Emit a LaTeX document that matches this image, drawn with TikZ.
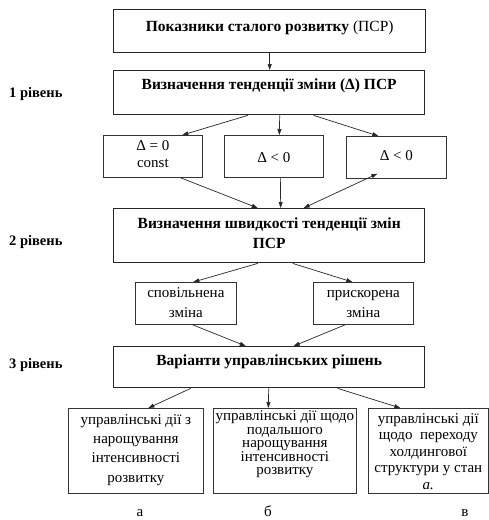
\documentclass[tikz,border=0pt]{standalone}
\usepackage{fontspec}
\setmainfont{Liberation Serif}
\usetikzlibrary{arrows.meta}
% text block of fixed size, set from the top: width, height, gap above first line, text
\newcommand\boxtext[4]{\parbox[c][#2pt][t]{#1pt}{\centering\vspace*{#3pt}#4}}
\begin{document}
\begin{tikzpicture}[x=1pt,y=-1pt,
  bigbox/.style={draw=black!85,line width=1.4pt,anchor=north west,inner sep=0pt,
    font=\bfseries\fontsize{15.5}{15}\selectfont},
  smallbox/.style={draw=black!80,line width=0.7pt,anchor=north west,inner sep=0pt,
    font=\fontsize{15}{17}\selectfont},
  conn/.style={draw=black!85,line width=0.7pt,-{Triangle[length=6pt,width=4pt]}},
  lvl/.style={anchor=west,inner sep=0pt,font=\bfseries\fontsize{14.5}{15}\selectfont},
  caption/.style={anchor=base,inner sep=0pt,font=\fontsize{15}{15}\selectfont},
]
\useasboundingbox (0,0) rectangle (489,520);

% main chain of wide boxes
\node[bigbox] (P) at (113,9)
  {\boxtext{312}{43}{11.5}{\strut Показники сталого розвитку \textmd{(ПСР)}}};
\node[bigbox] (T) at (113,70)
  {\boxtext{311}{44}{8.5}{\strut Визначення тенденції зміни (Δ) ПСР}};
\node[bigbox,font=\bfseries\fontsize{15.5}{20}\selectfont] (V) at (113,208)
  {\boxtext{311}{54}{6}{\strut Визначення швидкості тенденції змін\\ПСР}};
\node[bigbox] (R) at (113,346)
  {\boxtext{311}{41}{8.5}{\strut Варіанти управлінських рішень}};

% level 1 outcomes
\node[smallbox] (S1) at (103,135) {\boxtext{99}{42}{3}{\strut Δ = 0\\const}};
\node[smallbox] (S2) at (224,135) {\boxtext{99}{42}{15}{\strut Δ < 0}};
\node[smallbox] (S3) at (346,136) {\boxtext{100}{42}{12}{\strut Δ < 0}};

% level 2 outcomes
\node[smallbox,font=\fontsize{15}{20}\selectfont] (M1) at (135,282)
  {\boxtext{101}{42}{1}{\strut сповільнена\\зміна}};
\node[smallbox,font=\fontsize{15}{20}\selectfont] (M2) at (313,282)
  {\boxtext{100}{42}{1}{\strut прискорена\\зміна}};

% level 3 outcomes
\node[smallbox,font=\fontsize{15}{19.3}\selectfont] (B1) at (68,408)
  {\boxtext{135}{85}{2.5}{\strut управлінські дії з\\нарощування\\інтенсивності\\розвитку}};
\node[smallbox,font=\fontsize{15}{13.5}\selectfont] (B2) at (213,408)
  {\boxtext{143}{85}{2.5}{\strut\makebox[0pt]{управлінські дії щодо}\\подальшого\\нарощування\\інтенсивності\\розвитку}};
\node[smallbox,font=\fontsize{15}{16.5}\selectfont] (B3) at (368,408)
  {\boxtext{120}{85}{3.5}{\strut управлінські дії\\щодо\ \ переходу\\холдингової\\\makebox[0pt]{структури у стан}\\\textit{a.}}};

% captions under the bottom row
\node[caption] (La) at (140,516) {а};
\node[caption] (Lb) at (268,516) {б};
\node[caption] (Lc) at (465,516) {в};

% level labels
\node[lvl] (L1) at (9,94) {1 рівень};
\node[lvl] (L2) at (9,242) {2 рівень};
\node[lvl] (L3) at (9,365) {3 рівень};

% connectors
\draw[conn] (P.south) -- (P.south |- T.north);
\draw[conn] ([xshift=-21.5pt]T.south) -- ([xshift=29.5pt]S1.north);
\draw[conn] ([xshift=10.5pt]T.south) -- ([xshift=5.5pt]S2.north);
\draw[conn] ([xshift=44.5pt]T.south) -- ([xshift=-18pt]S3.north);

\draw[conn] ([xshift=27.5pt]S1.south) -- ([xshift=-11.5pt]V.north);
\draw[conn] ([xshift=6.5pt]S2.south) -- ([xshift=11.5pt]V.north);
\draw[conn,{Triangle[length=6pt,width=4pt]}-{Triangle[length=6pt,width=4pt]}]
  ([xshift=34.5pt]V.north) -- ([xshift=-19pt,yshift=5pt]S3.south);

\draw[conn] ([xshift=-11.5pt]V.south) -- ([xshift=7.5pt]M1.north);
\draw[conn] ([xshift=23.5pt]V.south) -- ([xshift=-11pt]M2.north);

\draw[conn] ([xshift=6.5pt]M1.south) -- ([xshift=-23.5pt]R.north);
\draw[conn] ([xshift=-18pt]M2.south) -- ([xshift=24.5pt]R.north);

\draw[conn] ([xshift=-78.5pt]R.south) -- ([xshift=12.5pt]B1.north);
\draw[conn] ([xshift=-0.5pt]R.south) -- ([xshift=-16.5pt]B2.north);
\draw[conn] ([xshift=68.5pt]R.south) -- ([xshift=-28pt]B3.north);
\end{tikzpicture}
\end{document}
